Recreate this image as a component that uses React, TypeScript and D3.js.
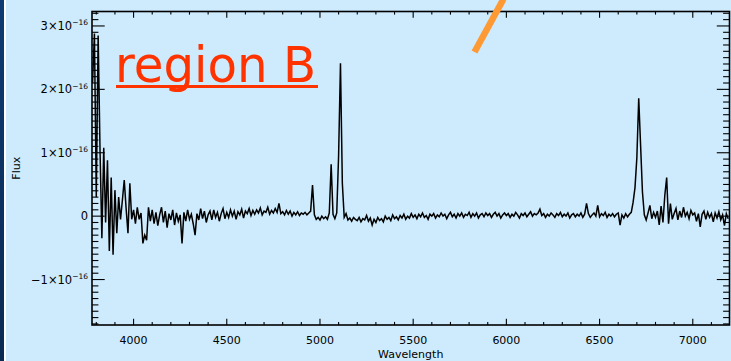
import React from 'react';
import * as d3 from 'd3';

const WIDTH = 731;
const HEIGHT = 361;

// Spectrum sampling: first wavelength (Å) and step between samples
const WAVE_START = 3780;
const WAVE_STEP = 10;

// Flux in units of 1e-16, one value per sample (rows of 100 Å)
const FLUX = [
  2.10, 2.88, 0.30, 2.85, 1.05, -0.35, 1.08, -0.10, 0.88, -0.55, // 3780
  0.61, -0.61, 0.41, -0.27, 0.30, -0.05, 0.25, 0.57, 0.12, -0.27, // 3880
  0.52, -0.05, 0.10, -0.12, 0.14, -0.05, 0.05, -0.43, -0.30, -0.38, // 3980
  0.14, -0.08, 0.10, -0.12, 0.06, -0.15, 0.02, 0.14, -0.10, 0.08, // 4080
  -0.18, 0.04, -0.06, 0.10, -0.14, 0.05, -0.08, 0.02, -0.43, 0.06, // 4180
  -0.08, 0.10, -0.05, 0.03, -0.12, -0.30, 0.04, -0.06, 0.12, -0.04, // 4280
  0.08, -0.10, 0.02, 0.08, -0.06, 0.10, -0.02, 0.06, -0.08, 0.04, // 4380
  0.12, -0.04, 0.06, -0.02, 0.10, 0.00, 0.08, -0.05, 0.07, 0.02, // 4480
  0.11, -0.03, 0.08, 0.04, 0.12, 0.01, 0.09, 0.03, 0.10, 0.05, // 4580
  0.13, 0.02, 0.08, 0.06, 0.14, 0.03, 0.09, 0.05, 0.12, 0.06, // 4680
  0.20, 0.04, 0.07, 0.02, 0.09, 0.03, 0.08, 0.00, 0.06, 0.02, // 4780
  0.07, 0.01, 0.05, 0.03, 0.06, 0.02, 0.05, 0.08, 0.49, 0.02, // 4880
  -0.05, -0.02, -0.06, 0.00, -0.04, -0.01, -0.05, 0.05, 0.82, 0.03, // 4980
  -0.04, 0.05, 0.96, 2.41, 0.52, -0.02, 0.04, -0.06, -0.03, -0.08, // 5080
  -0.02, -0.05, -0.07, -0.02, -0.09, -0.04, -0.06, 0.01, -0.08, -0.03, // 5180
  -0.14, -0.05, -0.10, -0.02, -0.07, -0.04, -0.09, 0.00, -0.05, -0.02, // 5280
  -0.07, 0.02, -0.04, -0.01, -0.06, 0.01, -0.03, 0.03, -0.05, 0.00, // 5380
  -0.03, 0.04, -0.02, 0.02, -0.04, 0.03, -0.01, 0.05, -0.02, 0.01, // 5480
  -0.05, 0.03, 0.00, 0.04, -0.03, 0.02, -0.01, 0.05, 0.00, 0.03, // 5580
  -0.04, 0.02, 0.06, -0.01, 0.03, -0.03, 0.04, 0.00, 0.05, -0.02, // 5680
  0.03, 0.01, 0.06, -0.02, 0.04, 0.00, 0.05, -0.03, 0.02, 0.04, // 5780
  -0.01, 0.05, 0.01, 0.04, -0.02, 0.03, 0.06, 0.00, 0.04, -0.03, // 5880
  0.02, 0.05, 0.01, 0.04, -0.02, 0.03, 0.00, 0.06, 0.02, -0.03, // 5980
  0.04, 0.01, 0.05, -0.01, 0.03, 0.07, 0.00, 0.04, 0.02, 0.05, // 6080
  0.11, 0.01, 0.04, -0.02, 0.03, 0.00, 0.05, 0.02, -0.02, 0.04, // 6180
  0.01, 0.06, -0.01, 0.03, 0.00, 0.05, -0.03, 0.02, 0.04, -0.01, // 6280
  0.03, 0.00, 0.05, -0.02, 0.03, 0.20, 0.04, -0.02, 0.02, 0.05, // 6380
  0.00, 0.17, -0.01, 0.04, 0.01, 0.06, -0.02, 0.03, 0.00, 0.04, // 6480
  -0.01, 0.03, 0.05, -0.14, 0.02, -0.03, 0.04, -0.01, 0.03, 0.06, // 6580
  0.22, 0.45, 0.92, 1.86, 1.12, 0.38, 0.02, -0.06, 0.05, 0.17, // 6680
  -0.04, 0.06, -0.02, 0.08, -0.14, 0.16, -0.10, 0.33, 0.61, -0.12, // 6780
  0.20, -0.05, 0.04, 0.12, -0.06, 0.08, -0.02, 0.14, 0.00, 0.06, // 6880
  -0.04, 0.09, 0.02, 0.05, -0.08, 0.04, -0.17, 0.03, 0.08, -0.05, // 6980
  0.06, -0.02, 0.04, -0.09, 0.05, -0.03, 0.07, -0.06, 0.02, -0.15, // 7080
  0.04, -0.04, // 7180
];

const X_DOMAIN = [3777, 7197];
const Y_DOMAIN = [-1.717, 3.228];

const X_MAJOR = [4000, 4500, 5000, 5500, 6000, 6500, 7000];
const X_LABELS = ['4000', '4500', '5000', '5500', '6000', '6500', '7000'];
const Y_MAJOR = [-1, 0, 1, 2, 3];
const Y_MANTISSA = ['\u22121\u00d710', '0', '1\u00d710', '2\u00d710', '3\u00d710'];
const Y_EXPONENT = ['\u221216', '', '\u221216', '\u221216', '\u221216'];

const X_TITLE = 'Wavelength';
const Y_TITLE = 'Flux';
const ANNOTATION = 'region B';

const PLOT = { left: 92, right: 729.5, top: 11.5, bottom: 325 };
const FONT = 'DejaVu Sans, Verdana, sans-serif';

export default function App() {
  const x = d3.scaleLinear().domain(X_DOMAIN).range([PLOT.left, PLOT.right]);
  const y = d3.scaleLinear().domain(Y_DOMAIN).range([PLOT.bottom, PLOT.top]);

  const points: [number, number][] = FLUX.map((f, i) => [WAVE_START + i * WAVE_STEP, f]);
  const line = d3
    .line<[number, number]>()
    .x((d) => x(d[0]))
    .y((d) => y(d[1]));

  const xMinor = d3.range(3800, 7200, 100).filter((v) => v % 500 !== 0);
  const yMinor = d3
    .range(-17, 33)
    .filter((v) => v % 10 !== 0)
    .map((v) => v / 10);

  const xMajLen = 6.3;
  const xMinLen = 3.1;
  const yMajLen = 12.7;
  const yMinLen = 6.4;

  return (
    <svg
      width={WIDTH}
      height={HEIGHT}
      style={{ position: 'absolute', left: 0, top: 0, display: 'block' }}
    >
      <defs>
        <linearGradient id="edge" x1="0" y1="0" x2="0" y2="1">
          <stop offset="0" stopColor="#0e3b72" />
          <stop offset="1" stopColor="#0a2a52" />
        </linearGradient>
        <clipPath id="plotClip">
          <rect x={PLOT.left} y={PLOT.top} width={PLOT.right - PLOT.left} height={PLOT.bottom - PLOT.top} />
        </clipPath>
      </defs>

      <rect x={0} y={0} width={WIDTH} height={HEIGHT} fill="#cdebfc" />
      <rect x={0} y={0} width={4} height={HEIGHT} fill="url(#edge)" />
      <rect x={4} y={0} width={2} height={HEIGHT} fill="#ffffff" />

      {/* spectrum */}
      <path
        d={line(points) || ''}
        fill="none"
        stroke="#000"
        strokeWidth={1.5}
        strokeLinejoin="miter"
        clipPath="url(#plotClip)"
      />

      {/* frame */}
      <rect
        x={PLOT.left}
        y={PLOT.top}
        width={PLOT.right - PLOT.left}
        height={PLOT.bottom - PLOT.top}
        fill="none"
        stroke="#000"
        strokeWidth={1.6}
      />

      {/* ticks on all four sides */}
      <g stroke="#000" strokeWidth={1.1}>
        {X_MAJOR.map((v) => (
          <g key={`xM${v}`}>
            <line x1={x(v)} x2={x(v)} y1={PLOT.bottom} y2={PLOT.bottom - xMajLen} />
            <line x1={x(v)} x2={x(v)} y1={PLOT.top} y2={PLOT.top + xMajLen} />
          </g>
        ))}
        {xMinor.map((v) => (
          <g key={`xm${v}`}>
            <line x1={x(v)} x2={x(v)} y1={PLOT.bottom} y2={PLOT.bottom - xMinLen} />
            <line x1={x(v)} x2={x(v)} y1={PLOT.top} y2={PLOT.top + xMinLen} />
          </g>
        ))}
        {Y_MAJOR.map((v) => (
          <g key={`yM${v}`}>
            <line x1={PLOT.left} x2={PLOT.left + yMajLen} y1={y(v)} y2={y(v)} />
            <line x1={PLOT.right} x2={PLOT.right - yMajLen} y1={y(v)} y2={y(v)} />
          </g>
        ))}
        {yMinor.map((v) => (
          <g key={`ym${v}`}>
            <line x1={PLOT.left} x2={PLOT.left + yMinLen} y1={y(v)} y2={y(v)} />
            <line x1={PLOT.right} x2={PLOT.right - yMinLen} y1={y(v)} y2={y(v)} />
          </g>
        ))}
      </g>

      {/* x tick labels */}
      <g fontFamily={FONT} fontSize={11} fill="#000" textAnchor="middle">
        {X_MAJOR.map((v, i) => (
          <text key={`xl${v}`} x={x(v)} y={344}>
            {X_LABELS[i]}
          </text>
        ))}
      </g>

      {/* y tick labels */}
      <g fontFamily={FONT} fill="#000" textAnchor="end">
        {Y_MAJOR.map((v, i) => (
          <text key={`yl${v}`} x={88} y={y(v) + 4} fontSize={11.5}>
            {Y_MANTISSA[i]}
            {Y_EXPONENT[i] ? (
              <tspan fontSize={7.5} dy={-4.5}>
                {Y_EXPONENT[i]}
              </tspan>
            ) : null}
          </text>
        ))}
      </g>

      {/* axis titles */}
      <text
        x={(PLOT.left + PLOT.right) / 2}
        y={358}
        fontFamily={FONT}
        fontSize={11}
        textAnchor="middle"
        fill="#000"
      >
        {X_TITLE}
      </text>
      <text
        transform={`translate(19.5, ${(y(Y_DOMAIN[0]) + y(Y_DOMAIN[1])) / 2}) rotate(-90)`}
        fontFamily={FONT}
        fontSize={11}
        textAnchor="middle"
        fill="#000"
      >
        {Y_TITLE}
      </text>

      {/* annotation */}
      <text
        x={115}
        y={82}
        fontFamily={FONT}
        fontSize={50}
        fill="#ff3300"
        textLength={201}
        lengthAdjust="spacingAndGlyphs"
      >
        {ANNOTATION}
      </text>
      <rect x={116} y={85} width={202} height={3} fill="#ff3300" />

      <line x1={474.5} y1={52} x2={503.5} y2={-1} stroke="#ff9933" strokeWidth={6.5} />
    </svg>
  );
}
